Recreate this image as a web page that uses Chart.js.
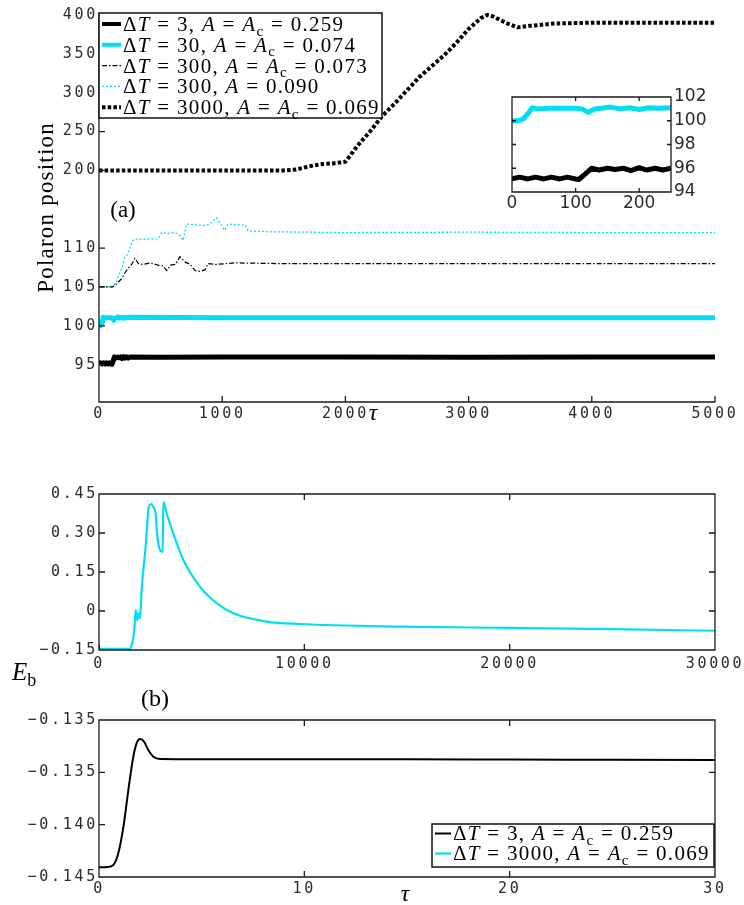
<!DOCTYPE html>
<html>
<head>
<meta charset="utf-8">
<title>Polaron position and binding energy</title>
<script src="https://cdn.jsdelivr.net/npm/chart.js@4.4.1/dist/chart.umd.min.js"></script>
<style>
  body { margin: 0; background: #fff; }
  #fig { position: relative; width: 744px; height: 905px; }
  #fig canvas { position: absolute; left: 0; top: 0; }
</style>
</head>
<body>
<div id="fig">
  <canvas id="posChart" width="744" height="905"></canvas>
  <canvas id="insetChart" width="744" height="905"></canvas>
  <canvas id="ebLongChart" width="744" height="905"></canvas>
  <canvas id="ebShortChart" width="744" height="905"></canvas>
</div>
<script>
// ---- panel (a): polaron position vs tau ----
const posLabels = [
  'ΔT = 3, A = A_c = 0.259',
  'ΔT = 30, A = A_c = 0.074',
  'ΔT = 300, A = A_c = 0.073',
  'ΔT = 300, A = 0.090',
  'ΔT = 3000, A = A_c = 0.069'
];
const tau3 = [0, 12, 25, 37, 50, 62, 75, 87, 100, 105, 115, 125, 137, 150, 162, 175, 187, 200, 212, 225, 237, 250, 500, 1000, 2000, 3000, 4000, 5000];
const pos3 = [95.1, 95.25, 95.1, 95.25, 95.1, 95.25, 95.1, 95.25, 95.1, 95.05, 95.5, 96.0, 95.85, 96.0, 95.9, 96.0, 95.8, 96.05, 95.85, 96.0, 95.85, 96.0, 95.95, 96.0, 96.0, 95.95, 96.0, 96.0];
const tau30 = [0, 10, 18, 25, 32, 40, 60, 80, 100, 110, 120, 130, 140, 155, 170, 185, 200, 215, 230, 250, 1000, 2000, 3000, 4000, 5000];
const pos30 = [100.0, 100.0, 100.15, 100.6, 101.1, 101.0, 101.05, 101.05, 101.05, 101.0, 100.7, 101.0, 101.05, 101.15, 101.0, 101.1, 100.95, 101.1, 101.05, 101.1, 101.05, 101.05, 101.05, 101.05, 101.05];
const tau300c = [0, 110, 150, 185, 210, 236, 265, 292, 320, 360, 420, 480, 520, 550, 580, 620, 657, 700, 740, 780, 820, 860, 885, 950, 1100, 1500, 2000, 3000, 4000, 5000];
const pos300c = [105.0, 105.0, 105.5, 106.1, 106.8, 107.4, 107.9, 108.7, 108.0, 107.9, 108.1, 107.8, 107.7, 107.1, 107.8, 107.9, 108.9, 108.2, 107.9, 107.1, 107.0, 107.2, 108.0, 107.9, 108.1, 108.0, 108.0, 108.0, 108.0, 108.0];
const tau300 = [0, 110, 140, 170, 190, 211, 230, 252, 270, 292, 350, 420, 481, 508, 560, 620, 660, 682, 712, 780, 850, 900, 955, 995, 1020, 1047, 1120, 1185, 1210, 1400, 2000, 3000, 4000, 5000];
const pos300 = [105.0, 105.0, 105.6, 106.9, 107.6, 108.8, 109.2, 110.1, 110.9, 111.2, 111.1, 111.2, 111.2, 112.0, 111.9, 112.0, 111.6, 111.0, 113.1, 113.0, 112.9, 113.1, 113.9, 112.9, 112.3, 113.1, 113.0, 113.0, 112.2, 112.1, 112.0, 112.05, 112.0, 112.0];
const tau3000 = [0, 500, 1000, 1500, 1600, 1700, 1800, 1900, 2000, 2100, 2200, 2300, 2400, 2500, 2600, 2700, 2800, 2900, 3000, 3100, 3150, 3200, 3300, 3400, 3500, 3700, 4000, 4500, 5000];
const pos3000 = [200, 200, 200, 200, 201, 205, 208, 209, 211, 232, 250, 270, 286, 303, 320, 334, 348, 364, 382, 396, 400, 398, 390, 384, 386, 389, 390, 390, 390];

// the y axis of (a) is broken: 95..110 as is, 200..400 squeezed 10x above 120
const squeeze = v => v > 150 ? 120 + (v - 200) / 10 : v;
const posTicks = [95, 100, 105, 110, 120, 125, 130, 135, 140];
const posTickText = ['95', '100', '105', '110', '200', '250', '300', '350', '400'];
const tauTicksA = [0, 1000, 2000, 3000, 4000, 5000];
const insetTauTicks = [0, 100, 200];
const insetPosTicks = [94, 96, 98, 100, 102];

// ---- panel (b): binding energy E_b ----
const ebLabels = ['ΔT = 3, A = A_c = 0.259', 'ΔT = 3000, A = A_c = 0.069'];
const tauEb3 = [0, 0.4, 0.7, 0.94, 1.19, 1.43, 1.67, 1.83, 2.0, 2.19, 2.4, 2.65, 2.97, 5, 10, 15, 20, 25, 30];
const eb3 = [-0.14408, -0.14405, -0.14385, -0.14274, -0.14019, -0.13669, -0.13351, -0.13223, -0.13182, -0.13207, -0.13287, -0.13351, -0.13373, -0.13375, -0.13376, -0.13376, -0.13378, -0.1338, -0.13382];
const tauEb3000 = [0, 500, 1000, 1510, 1590, 1720, 1785, 1865, 1915, 1997, 2078, 2160, 2270, 2320, 2400, 2515, 2645, 2776, 2810, 3100, 3135, 3295, 3610, 4108, 4920, 5730, 6540, 8170, 9790, 14660, 20020, 25000, 30000];
const eb3000 = [-0.146, -0.146, -0.146, -0.1455, -0.131, -0.073, 0.004, -0.035, -0.009, -0.028, 0.08, 0.158, 0.247, 0.30, 0.388, 0.4115, 0.40, 0.363, 0.31, 0.228, 0.42, 0.376, 0.30, 0.196, 0.093, 0.030, -0.009, -0.041, -0.05, -0.06, -0.065, -0.07, -0.076];
const ebLongTicks = [-0.15, 0, 0.15, 0.30, 0.45];
const ebLongText = ['\u22120.15', '0', '0.15', '0.30', '0.45'];
const tauLongTicks = [0, 10000, 20000, 30000];
const ebShortTicks = [-0.145, -0.14, -0.135, -0.13];
const ebShortText = ['\u22120.145', '\u22120.140', '\u22120.135', '\u22120.135'];
const tauShortTicks = [0, 10, 20, 30];

const BLACK = '#000';
const CYAN = 'rgb(0, 222, 245)';
const MONO = { family: 'DejaVu Sans Mono', size: 15 };
const SANS = { family: 'DejaVu Sans', size: 17 };

const pts = (xs, ys) => xs.map((x, i) => ({ x, y: ys[i] }));

function line(label, xs, ys, color, width, dash, smooth) {
  return {
    label, data: pts(xs, ys), borderColor: color, borderWidth: width,
    borderDash: dash || [], borderJoinStyle: 'round',
    cubicInterpolationMode: smooth ? 'monotone' : 'default'
  };
}

function axis(min, max, ticks, text, extent, vertical, font, pad, position) {
  return {
    type: 'linear', min, max, position,
    grid: { display: false, drawTicks: false },
    border: { display: false },
    afterBuildTicks: s => { s.ticks = ticks.map(v => ({ value: v })); },
    ticks: {
      font, color: '#2b2b2b', padding: pad, autoSkip: false, maxRotation: 0,
      callback: v => text ? text[ticks.indexOf(v)] : String(v)
    },
    afterFit: s => {
      if (vertical) s.width = extent; else s.height = extent;
      s.paddingLeft = s.paddingRight = s.paddingTop = s.paddingBottom = 0;
    }
  };
}

function options(padding, scales) {
  return {
    responsive: false, animation: false, events: [],
    layout: { autoPadding: false, padding },
    elements: { point: { radius: 0 }, line: { tension: 0 } },
    plugins: { legend: { display: false }, tooltip: { enabled: false } },
    scales
  };
}

// text with LaTeX-like look: latin letters italic, _x is an upright subscript
function glyphs(ctx, str, size, spacing, math) {
  const out = [];
  let w = 0;
  for (let i = 0; i < str.length; i++) {
    let ch = str[i], sub = false;
    if (math && ch === '_') { ch = str[++i]; sub = true; }
    const italic = math && !sub && /[A-Za-z\u03c4]/.test(ch);
    const font = (italic ? 'italic ' : '') + (sub ? size * 0.72 : size) + 'px "Liberation Serif"';
    ctx.font = font;
    out.push({ ch, font, dx: w, dy: sub ? size * 0.22 : 0 });
    w += ctx.measureText(ch).width + spacing;
  }
  return { out, w: w - spacing };
}

function drawText(ctx, str, x, y, size, o) {
  o = o || {};
  ctx.save();
  ctx.letterSpacing = '0px';
  ctx.fillStyle = '#000';
  ctx.textAlign = 'left';
  ctx.textBaseline = 'alphabetic';
  const g = glyphs(ctx, str, size, o.spacing || 0, o.math);
  ctx.translate(x, y);
  if (o.rotate) ctx.rotate(o.rotate);
  const x0 = o.center ? -g.w / 2 : 0;
  g.out.forEach(p => {
    ctx.font = p.font;
    ctx.fillText(p.ch, x0 + p.dx, size * 0.33 + p.dy);
  });
  ctx.restore();
}

// axis lines and inward tick marks, matlab style
function frame(o) {
  return {
    id: 'frame',
    beforeDraw(chart) {
      const { ctx, chartArea: a } = chart;
      if (o.fill) {
        ctx.fillStyle = '#fff';
        ctx.fillRect(a.left, a.top, a.right - a.left, a.bottom - a.top);
      }
      ctx.letterSpacing = o.spacing || '0px';
    },
    beforeDatasetsDraw(chart) { chart.ctx.letterSpacing = '0px'; },
    afterDatasetsDraw(chart) {
      const { ctx, chartArea: a, scales: { x, y } } = chart;
      const len = o.tick;
      ctx.save();
      ctx.strokeStyle = '#1a1a1a';
      ctx.lineWidth = 1.3;
      ctx.setLineDash([]);
      ctx.beginPath();
      if (o.box) {
        ctx.rect(a.left, a.top, a.right - a.left, a.bottom - a.top);
      } else {
        ctx.moveTo(a.left, a.top);
        ctx.lineTo(a.left, a.bottom);
        ctx.lineTo(a.right, a.bottom);
      }
      x.ticks.forEach(t => {
        const px = x.getPixelForValue(t.value);
        ctx.moveTo(px, a.bottom); ctx.lineTo(px, a.bottom - len);
        if (o.box) { ctx.moveTo(px, a.top); ctx.lineTo(px, a.top + len); }
      });
      y.ticks.forEach(t => {
        const py = y.getPixelForValue(t.value);
        ctx.moveTo(a.left, py); ctx.lineTo(a.left + len, py);
        if (o.box) { ctx.moveTo(a.right, py); ctx.lineTo(a.right - len, py); }
      });
      ctx.stroke();
      ctx.restore();
    }
  };
}

// boxed legend drawn from the datasets
function keyBox(o) {
  return {
    id: 'keyBox',
    afterDraw(chart) {
      const ctx = chart.ctx;
      ctx.save();
      ctx.letterSpacing = '0px';
      ctx.fillStyle = '#fff';
      ctx.fillRect(o.x, o.y, o.w, o.h);
      ctx.strokeStyle = '#111';
      ctx.lineWidth = 1.5;
      ctx.strokeRect(o.x, o.y, o.w, o.h);
      chart.data.datasets.forEach((ds, i) => {
        const cy = o.y + o.first + i * o.row;
        ctx.strokeStyle = ds.borderColor;
        ctx.lineWidth = Math.min(ds.borderWidth, 4);
        ctx.setLineDash(ds.borderDash);
        ctx.beginPath();
        ctx.moveTo(o.x + 3, cy);
        ctx.lineTo(o.x + 3 + o.sample, cy);
        ctx.stroke();
        drawText(ctx, ds.label, o.x + o.sample + 5, cy, o.size, { math: true, spacing: 1.3 });
      });
      ctx.restore();
    }
  };
}

function notes(list) {
  return {
    id: 'notes',
    afterDraw(chart) {
      list.forEach(n => drawText(chart.ctx, n.text, n.x, n.y, n.size, n));
    }
  };
}

// panel (a) main axes
new Chart(document.getElementById('posChart'), {
  type: 'line',
  data: {
    datasets: [
      line(posLabels[0], tau3, pos3, BLACK, 5),
      line(posLabels[1], tau30, pos30, CYAN, 5),
      line(posLabels[2], tau300c, pos300c, BLACK, 1.2, [5, 2, 1.5, 2]),
      line(posLabels[3], tau300, pos300, CYAN, 1.3, [2, 2]),
      line(posLabels[4], tau3000, pos3000.map(squeeze), BLACK, 4, [3.5, 2.2])
    ]
  },
  options: options({ left: 4, top: 13, right: 29, bottom: 473 }, {
    x: axis(0, 5000, tauTicksA, null, 30, false, MONO, 3),
    y: axis(90.2, 140.25, posTicks, posTickText, 95, true, MONO, 1)
  }),
  plugins: [
    frame({ box: false, tick: 6, spacing: '2.7px' }),
    keyBox({ x: 99, y: 13, w: 283, h: 105, first: 11, row: 20.8, sample: 19, size: 21 }),
    notes([
      { text: 'Polaron position', x: 45, y: 208, size: 23, spacing: 1.2, center: true, rotate: -Math.PI / 2 },
      { text: '(a)', x: 123, y: 209, size: 23, center: true },
      { text: 'τ', x: 373, y: 412, size: 24, center: true, math: true }
    ])
  ]
});

// panel (a) inset: first 250 time units
new Chart(document.getElementById('insetChart'), {
  type: 'line',
  data: {
    datasets: [
      line(posLabels[0], tau3, pos3, BLACK, 5),
      line(posLabels[1], tau30, pos30, CYAN, 5)
    ]
  },
  options: options({ left: 512, top: 97, right: 23, bottom: 691 }, {
    x: axis(0, 250, insetTauTicks, null, 22, false, SANS, 1),
    y: axis(94, 102, insetPosTicks, null, 50, true, SANS, 3, 'right')
  }),
  plugins: [frame({ box: true, tick: 4, fill: true })]
});

// panel (b) upper: long times
new Chart(document.getElementById('ebLongChart'), {
  type: 'line',
  data: {
    datasets: [
      line(ebLabels[0], tauEb3, eb3, BLACK, 2, null, true),
      line(ebLabels[1], tauEb3000, eb3000, CYAN, 2.2, null, true)
    ]
  },
  options: options({ left: 4, top: 494, right: 29, bottom: 230 }, {
    x: axis(0, 30000, tauLongTicks, null, 25, false, MONO, 5),
    y: axis(-0.15, 0.45, ebLongTicks, ebLongText, 95, true, MONO, 1)
  }),
  plugins: [frame({ box: true, tick: 6, spacing: '2.7px' })]
});

// panel (b) lower: short times
new Chart(document.getElementById('ebShortChart'), {
  type: 'line',
  data: {
    datasets: [
      line(ebLabels[0], tauEb3, eb3, BLACK, 2, null, true),
      line(ebLabels[1], tauEb3000, eb3000, CYAN, 2.2, null, true)
    ]
  },
  options: options({ left: 4, top: 720, right: 29, bottom: 3 }, {
    x: axis(0, 30, tauShortTicks, null, 25, false, MONO, 3),
    y: axis(-0.145, -0.13, ebShortTicks, ebShortText, 95, true, MONO, 1)
  }),
  plugins: [
    frame({ box: true, tick: 6, spacing: '2.7px' }),
    keyBox({ x: 432, y: 824, w: 282, h: 43, first: 9.5, row: 20, sample: 16, size: 21 }),
    notes([
      { text: 'E_b', x: 12, y: 672, size: 25, math: true },
      { text: '(b)', x: 155, y: 698, size: 24, center: true },
      { text: 'τ', x: 405, y: 893, size: 24, center: true, math: true }
    ])
  ]
});
</script>
</body>
</html>
